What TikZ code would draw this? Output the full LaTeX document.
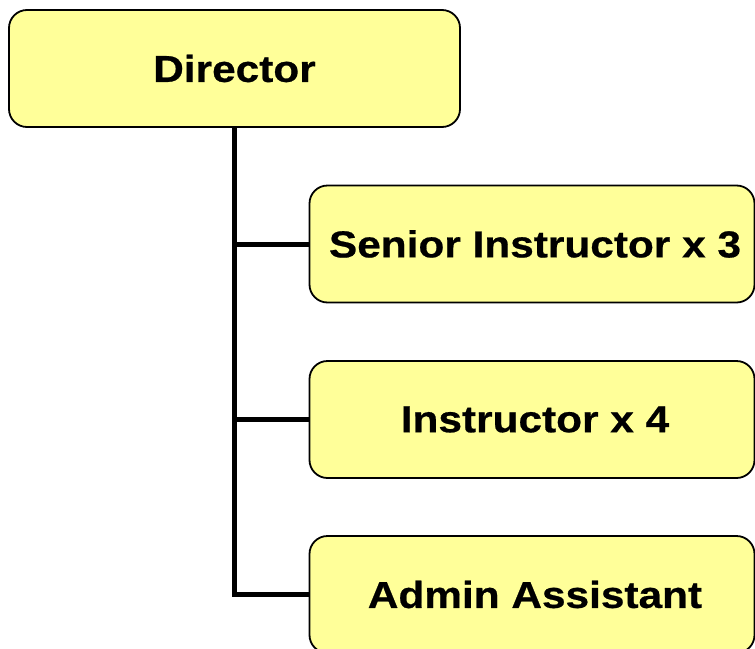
\documentclass[tikz,border=0pt]{standalone}
\usepackage{fontspec}
\newfontfamily\labfont{Liberation Sans}[FakeStretch=1.13,FakeBold=0.6]
\definecolor{boxfill}{RGB}{255,255,153}
\tikzset{
  orgbox/.style={draw=black, line width=1.8pt, fill=boxfill, rounded corners=18pt,
    inner sep=0pt, font=\labfont\bfseries\fontsize{37.5}{40}\selectfont,
    minimum height=117pt},
  conn/.style={draw=black, line width=5pt}
}
\begin{document}
\begin{tikzpicture}[x=1pt,y=-1pt]
\useasboundingbox (0,0) rectangle (755,648);
\node[orgbox, minimum width=451pt] (dir) at (234.5,68.5) {Director};
\node[orgbox, minimum width=445pt] (sen) at (532,244) {\hspace{6pt}Senior Instructor x 3};
\node[orgbox, minimum width=445pt] (ins) at (532,419.5) {\hspace{6pt}Instructor x 4};
\node[orgbox, minimum width=445pt] (adm) at (532,594.5) {\hspace{6pt}Admin Assistant};
\draw[conn] (dir.south) |- (adm.west);
\draw[conn] (dir.south |- sen.west) -- (sen.west);
\draw[conn] (dir.south |- ins.west) -- (ins.west);
\end{tikzpicture}
\end{document}
